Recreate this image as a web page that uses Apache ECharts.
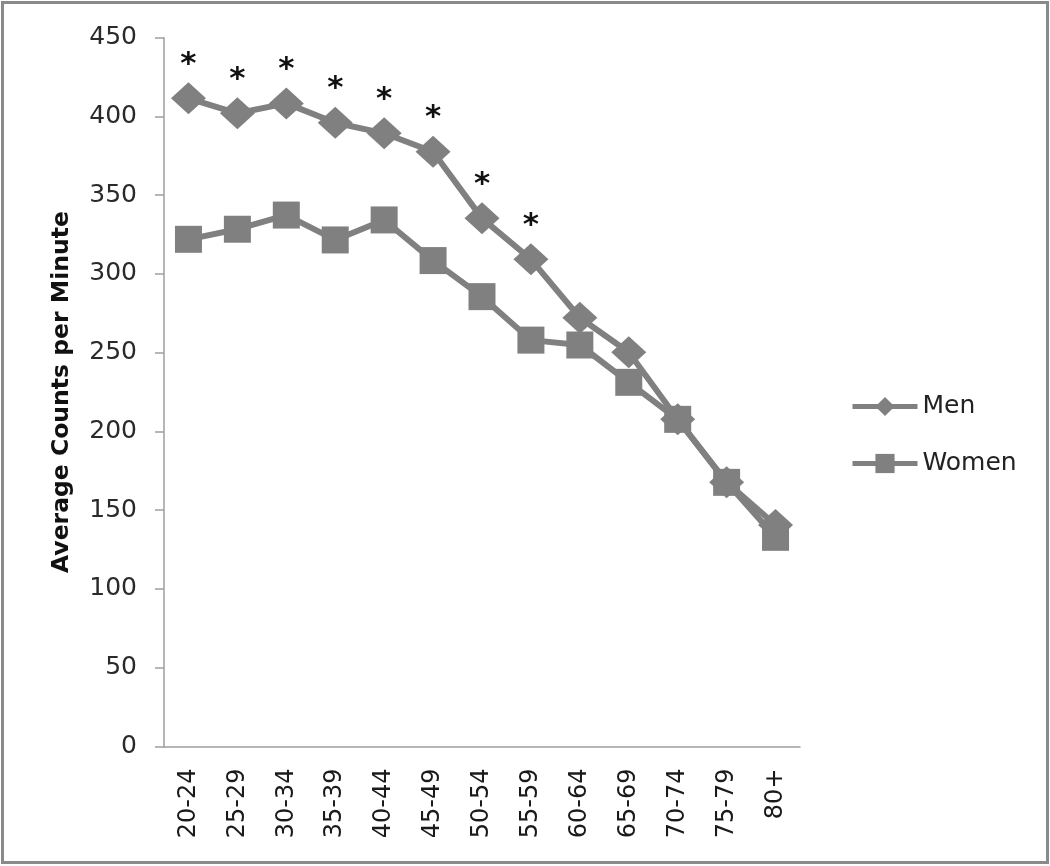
<!DOCTYPE html>
<html>
<head>
<meta charset="utf-8">
<script src="https://cdn.jsdelivr.net/npm/echarts@6/dist/echarts.min.js"></script>
<style>
html,body{margin:0;padding:0;background:#fff;}
#chart{width:1050px;height:866px;}
</style>
</head>
<body>
<div id="chart"></div>
<script>
const categories = ['20-24','25-29','30-34','35-39','40-44','45-49','50-54','55-59','60-64','65-69','70-74','75-79','80+'];
const menValues = [411.5, 402, 408.3, 396, 389.3, 377.6, 335.3, 309.3, 272.2, 250.3, 207.7, 167.7, 140.6];
const womenValues = [322, 328.4, 337.4, 321.6, 334.3, 308.5, 285.6, 258, 254.9, 231.2, 207.7, 167.7, 132.8];
const menSignificant = [true, true, true, true, true, true, true, true, false, false, false, false, false];
const yTicks = {min: 0, max: 450, interval: 50};
const seriesNames = ['Men', 'Women'];
const yAxisTitle = 'Average Counts per Minute';

const FONT = 'DejaVu Sans';
const GRAY = '#808080';

const menData = menValues.map((v, i) => menSignificant[i] ? {
  value: v,
  label: {show: true, formatter: '*', position: 'top', distance: 2,
          fontSize: 31, fontWeight: 'bold', color: '#111', fontFamily: FONT}
} : v);

const chart = echarts.init(document.getElementById('chart'), null, {renderer: 'canvas'});
chart.setOption({
  animation: false,
  backgroundColor: '#fff',
  graphic: [{
    type: 'rect', left: 0, top: 0, z: 100,
    shape: {x: 1.5, y: 1.5, width: 1045, height: 860},
    style: {fill: 'none', stroke: '#8a8a8a', lineWidth: 3}
  }],
  grid: {left: 164, right: 250, top: 37.7, bottom: 119.5, containLabel: false},
  legend: {
    orient: 'vertical', left: 845, top: 389,
    itemWidth: 65, itemHeight: 24, itemGap: 32,
    lineStyle: {width: 5, color: GRAY},
    textStyle: {fontFamily: FONT, fontSize: 25, color: '#222'},
    data: seriesNames
  },
  xAxis: {
    type: 'category', data: categories, boundaryGap: true,
    axisLine: {show: true, lineStyle: {color: '#9e9e9e', width: 1.5}},
    axisTick: {show: false},
    axisLabel: {rotate: 90, margin: 22, fontFamily: FONT, fontSize: 24, color: '#1a1a1a', interval: 0}
  },
  yAxis: {
    type: 'value', min: yTicks.min, max: yTicks.max, interval: yTicks.interval,
    name: yAxisTitle, nameLocation: 'middle', nameRotate: 90, nameGap: 90,
    nameTextStyle: {fontFamily: FONT, fontSize: 23.5, fontWeight: 'bold', color: '#111'},
    axisLine: {show: true, lineStyle: {color: '#9e9e9e', width: 1.5}},
    axisTick: {show: true, inside: false, length: 9, lineStyle: {color: '#9e9e9e', width: 1.5}},
    splitLine: {show: false},
    axisLabel: {margin: 27, fontFamily: FONT, fontSize: 25, color: '#2a2a2a'}
  },
  series: [
    {
      name: seriesNames[0], type: 'line', data: menData,
      symbol: 'diamond', symbolSize: [35, 32],
      lineStyle: {color: GRAY, width: 6},
      itemStyle: {color: GRAY},
      z: 2
    },
    {
      name: seriesNames[1], type: 'line', data: womenValues,
      symbol: 'rect', symbolSize: 27,
      lineStyle: {color: GRAY, width: 6},
      itemStyle: {color: GRAY},
      z: 3
    }
  ]
});
</script>
</body>
</html>
